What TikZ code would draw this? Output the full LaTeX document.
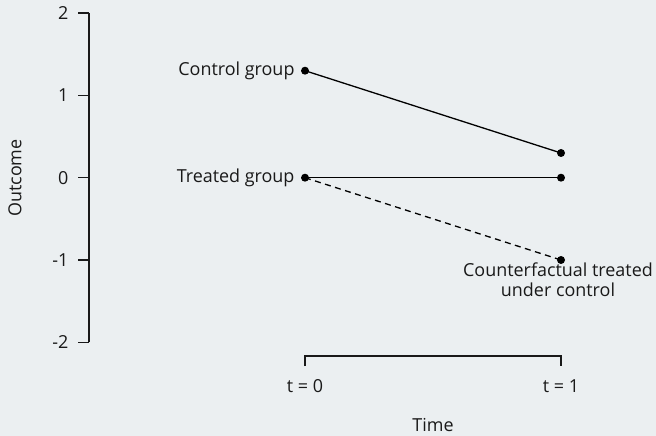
\documentclass[tikz,border=0pt]{standalone}
\usepackage{fontspec}
\setmainfont{Open Sans}
\definecolor{bgcol}{RGB}{235,239,241}
\definecolor{ink}{RGB}{25,25,25}

\begin{document}
\begin{tikzpicture}
[x=1bp,y=-1bp,every node/.style={text=ink,font=\fontsize{18}{20}\selectfont},
 dot/.style={circle,fill=black,inner sep=0pt,minimum size=8bp},
 axis/.style={line width=1.2bp,draw=ink},
 path/.style={line width=1.3bp}]
\fill[bgcol] (0,0) rectangle (656,436);
\useasboundingbox (0,0) rectangle (656,436);
% y axis
\draw[axis] (89,13) -- (89,342.3);
\foreach \v/\y in {2/13,1/95.3,0/177.7,-1/260,-2/342.3}
{
\coordinate (yt\v) at (89,\y);
\draw[axis] (yt\v) -- ++(-11,0) node[left,inner sep=9bp] (ylab\v) {\v};
}
\node[rotate=90] (ytitle) at (15,178) {Outcome};
% points
\node[dot] (c0) at (305,70.7) {};
\node[dot] (c1) at (561,153) {};
\node[dot] (t0) at (305,177.7) {};
\node[dot] (t1) at (561,177.7) {};
\node[dot] (u1) at (561,260) {};
\draw[path] (c0.center) -- (c1.center);
\draw[path] (t0.center) -- (t1.center);
\draw[path,dash pattern=on 6bp off 4.5bp] (t0.center) -- (u1.center);
% labels
\node[anchor=east] (clab) at (298,70.7) {Control group};
\node[anchor=east] (tlab) at (298,177.7) {Treated group};
\node[anchor=north,align=center,inner sep=0pt] (ulab) at (558,263) {Counterfactual treated\\under control};
% x axis
\coordinate (xa) at (305,356);
\coordinate (xb) at (561,356);
\draw[axis] ([yshift=-10bp]xa) -- (xa) -- (xb) -- ([yshift=-10bp]xb);
\node (xlab0) at (305,386) {t = 0};
\node (xlab1) at (561,386) {t = 1};
\node (xtitle) at (433,425) {Time};
\end{tikzpicture}
\end{document}
